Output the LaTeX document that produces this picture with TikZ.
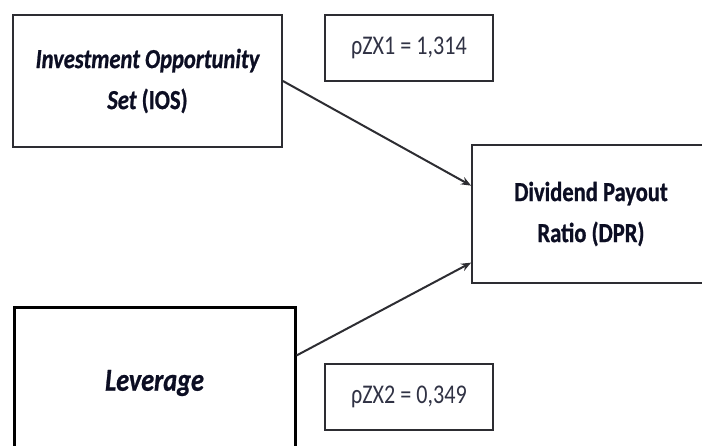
\documentclass[tikz,border=0pt]{standalone}
\usepackage{fontspec}
\setmainfont[FakeStretch=0.82, BoldFeatures={FakeBold=0.8}, BoldItalicFeatures={FakeBold=0.8}]{Carlito}
\usetikzlibrary{arrows.meta, positioning, calc}
\definecolor{mydark}{RGB}{45,45,50}
\definecolor{myink}{RGB}{12,14,35}
\tikzset{
  varbox/.style={rectangle, draw=mydark, line width=1.8pt, align=center,
    text=myink, font=\fontsize{27.5}{41}\selectfont\bfseries, inner sep=0pt},
  coefbox/.style={rectangle, draw=mydark, line width=2pt, align=center,
    text=myink!85, font=\fontsize{27}{30}\selectfont, inner sep=0pt,
    minimum width=168pt, minimum height=66pt},
  arrow/.style={-{Stealth[length=10pt, width=8pt]}, line width=2pt, color=mydark}
}

\begin{document}
\begin{tikzpicture}[x=1pt, y=-1pt]
  \useasboundingbox (0,0) rectangle (702,446);
  \clip (0,0) rectangle (702,446);

  % Independent variables
  \node[varbox, minimum width=269pt, minimum height=132pt] (ios) at (147.5,81)
    {\itshape Investment Opportunity\\\itshape Set {\upshape (IOS)}};
  \node[varbox, draw=black, line width=3pt, minimum width=281pt, minimum height=150pt,
    font=\fontsize{32}{38}\selectfont\bfseries] (lev) at (154.5,383)
    {\itshape Leverage};

  % Dependent variable
  \node[varbox, minimum width=238pt, minimum height=138pt] (dpr) at (591,214)
    {Dividend Payout\\Ratio (DPR)};

  % Path coefficients
  \node[coefbox] (rho1) at (409,48) {ρZX1 = 1,314};
  \node[coefbox, below=281pt of rho1] (rho2) {ρZX2 = 0,349};

  % Connectors
  \coordinate (in1) at ($(dpr.north west)!0.297!(dpr.south west)$);
  \coordinate (in2) at ($(dpr.north west)!0.848!(dpr.south west)$);
  \coordinate (out2) at ($(lev.north east)+(0,49)$);
  \draw[arrow] (ios.east) -- (in1);
  \draw[arrow] (out2) -- (in2);

\end{tikzpicture}
\end{document}
